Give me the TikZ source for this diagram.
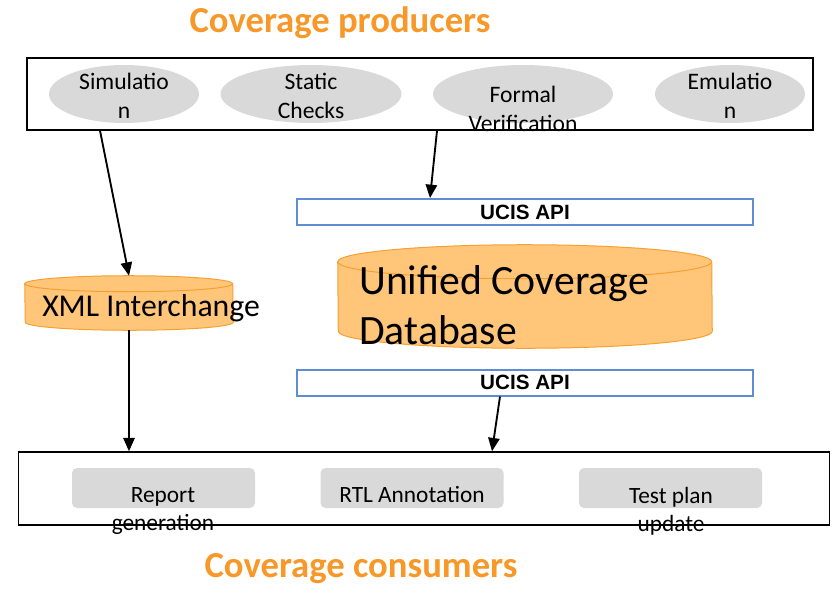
\documentclass[tikz,border=0pt]{standalone}
\usepackage{fontspec}
\setmainfont{Carlito}
\newfontfamily\apifont{Liberation Sans}
\usetikzlibrary{shapes.geometric,arrows.meta,positioning,calc}
\definecolor{CovOrange}{RGB}{247,152,40}
\definecolor{DbFill}{RGB}{255,198,122}
\definecolor{DbDraw}{RGB}{245,160,50}
\definecolor{ApiBlue}{RGB}{95,140,210}
\definecolor{ToolGray}{RGB}{217,217,217}

\begin{document}
\begin{tikzpicture}[
        x=0.75pt, y=-0.75pt,
        title/.style={font=\fontsize{27.5}{33}\selectfont\bfseries, text=CovOrange, inner sep=0pt},
        group/.style={rectangle, draw=black, line width=1.1pt, inner sep=0pt},
        producer/.style={ellipse, fill=ToolGray, minimum height=43.5pt, inner sep=0pt},
        prodtext/.style={font=\fontsize{17.7}{21.75}\selectfont, align=center, inner sep=0pt},
        consumer/.style={rectangle, rounded corners=3.75pt, fill=ToolGray,
                         minimum width=137.25pt, minimum height=30pt, inner sep=0pt},
        constext/.style={font=\fontsize{17.5}{21}\selectfont, align=center, inner sep=0pt},
        api/.style={rectangle, draw=ApiBlue, line width=1.5pt, minimum width=342pt,
                    minimum height=19.5pt, inner sep=0pt, font=\apifont\bfseries\fontsize{15.5}{18}\selectfont},
        dbshape/.style={draw=DbDraw, fill=DbFill, line width=0.75pt},
        arrow/.style={draw, -{Triangle[length=10pt,width=8.5pt]}, line width=1.4pt, black}
    ]
        \useasboundingbox (0,0) rectangle (832,589);

        % producers
        \node[title] (prodtitle) at (340,23) {Coverage producers};
        \node[group, minimum width=589.5pt, minimum height=54pt] (producers) at (420,94) {};
        \node[producer, minimum width=112.5pt] (sim)    at (124,94) {};
        \node[producer, minimum width=135.75pt] (static) at (311,94) {};
        \node[producer, minimum width=135pt] (formal) at (523,94) {};
        \node[producer, minimum width=112.5pt] (emu)    at (730,94) {};
        \node[prodtext] (simtext)    at (124,96)  {Simulatio\\n};
        \node[prodtext] (statictext) at (311,96)  {Static\\Checks};
        \node[prodtext] (formaltext) at (523,109) {Formal\\Verification};
        \node[prodtext] (emutext)    at (730,96)  {Emulatio\\n};

        % databases and API
        \node[api] (apitop) at (525,212) {UCIS API};
        \node[minimum width=280.5pt, minimum height=77.25pt, inner sep=0pt] (ucdb) at (525,296.5) {};
        \path[dbshape] ($(ucdb.north west)+(0,17)$) arc[start angle=180, end angle=360, x radius=187, y radius=17]
            -- ($(ucdb.south east)+(0,-17)$) arc[start angle=0, end angle=180, x radius=187, y radius=17] -- cycle;
        \draw[DbDraw, line width=0.75pt] ($(ucdb.north west)+(0,17)$) arc[start angle=180, end angle=0, x radius=187, y radius=17];
        \node[font=\fontsize{31.3}{37.5}\selectfont, align=left, inner sep=0pt, anchor=west]
            (ucdbtext) at (359,305) {Unified Coverage\\Database};
        \node[api] (apibot) at (525,382.5) {UCIS API};
        \node[minimum width=156pt, minimum height=40.5pt, inner sep=0pt] (xml) at (129,303) {};
        \path[dbshape] ($(xml.north west)+(0,8)$) arc[start angle=180, end angle=360, x radius=104, y radius=8]
            -- ($(xml.south east)+(0,-8)$) arc[start angle=0, end angle=180, x radius=104, y radius=8] -- cycle;
        \draw[DbDraw, line width=0.75pt] ($(xml.north west)+(0,8)$) arc[start angle=180, end angle=0, x radius=104, y radius=8];
        \node[font=\fontsize{23.8}{28}\selectfont, inner sep=0pt, anchor=west]
            (xmltext) at (42,308) {XML Interchange};

        % consumers
        \node[group, minimum width=608.25pt, minimum height=54.75pt] (consumers) at (424,488.5) {};
        \node[consumer] (report) at (163.5,488) {};
        \node[consumer] (rtl)    at (412,488)   {};
        \node[consumer] (plan)   at (670.5,488) {};
        \node[constext] (reporttext) at (163,511) {Report\\generation};
        \node[constext] (rtltext)    at (412,495) {RTL Annotation};
        \node[constext] (plantext)   at (671,511) {Test plan\\update};
        \node[title] (constitle) at (361,569) {Coverage consumers};

        \path[arrow] ($(sim |- producers.south)+(-24,0)$) -- (xml.north);
        \path[arrow] ($(formal |- producers.south)+(-86,0)$) -- ($(apitop.north)+(-95,0)$);
        \path[arrow] (xml.south) -- (xml.south |- consumers.north);
        \path[arrow] ($(apibot.south)+(-25,0)$) -- ($(apibot.south |- consumers.north)+(-33,0)$);
    \end{tikzpicture}
\end{document}
